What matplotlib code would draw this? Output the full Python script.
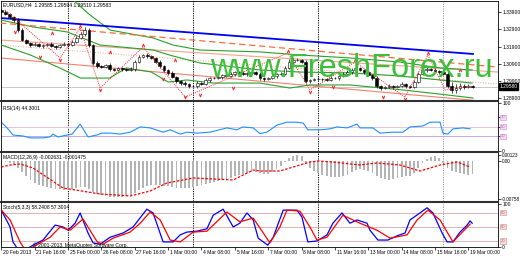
import matplotlib
matplotlib.use("Agg")
import matplotlib.pyplot as plt
from matplotlib.lines import Line2D

plt.rcParams["font.family"] = ["Liberation Sans", "DejaVu Sans"]

W, H = 520, 260

# EURUSD H4 closes, one per bar (bar 0 = 20 Feb 2013)
close = [
    1.3391, 1.3379, 1.3362, 1.3344, 1.3286, 1.3228, 1.3211, 1.3199, 1.3205, 1.3193,
    1.3199, 1.3205, 1.3193, 1.3188, 1.3199, 1.3205, 1.3199, 1.3217, 1.3240, 1.3263,
    1.3286, 1.3199, 1.3095, 1.3077, 1.3071, 1.3083, 1.3060, 1.3054, 1.3066, 1.3060,
    1.3054, 1.3060, 1.3100, 1.3129, 1.3141, 1.3135, 1.3124, 1.3100, 1.3077, 1.3054,
    1.3037, 1.3013, 1.2990, 1.2978, 1.2973, 1.2961, 1.2961, 1.2978, 1.2973, 1.2996,
    1.3007, 1.3007, 1.3013, 1.3025, 1.3019, 1.3031, 1.3042, 1.3037, 1.3031, 1.3037,
    1.3042, 1.3031, 1.3007, 1.3002, 1.3007, 1.3019, 1.3031, 1.3031, 1.3066, 1.3100,
    1.3112, 1.3112, 1.3100, 1.2990, 1.2996, 1.3002, 1.3002, 1.3002, 1.2996, 1.3007,
    1.3007, 1.3019, 1.3031, 1.3042, 1.3054, 1.3066, 1.3054, 1.3042, 1.3025, 1.3007,
    1.2961, 1.2949, 1.2955, 1.2961, 1.2955, 1.2961, 1.2973, 1.2961, 1.2955, 1.2984,
    1.3031, 1.3054, 1.3060, 1.3054, 1.3048, 1.3042, 1.3031, 1.2961, 1.2938, 1.2949,
    1.2961, 1.2955, 1.2961, 1.2958,
]
open0 = 1.3402
# wick lengths in pips
upper_wick = [
    8, 10, 6, 8, 12, 10, 6, 8, 10, 6,
    8, 6, 10, 8, 6, 10, 8, 12, 10, 14,
    16, 10, 8, 10, 6, 8, 10, 6, 8, 6,
    8, 10, 14, 12, 8, 10, 6, 8, 10, 6,
    8, 10, 6, 8, 10, 8, 6, 12, 8, 10,
    6, 8, 10, 8, 6, 10, 8, 6, 10, 8,
    6, 8, 10, 6, 8, 10, 8, 12, 14, 16,
    12, 10, 8, 10, 6, 8, 10, 6, 8, 10,
    6, 8, 10, 12, 14, 10, 8, 6, 10, 8,
    10, 6, 8, 10, 6, 8, 10, 6, 8, 12,
    14, 12, 10, 8, 10, 8, 6, 16, 22, 26,
    18, 12, 10, 8,
]
lower_wick = [
    6, 8, 10, 12, 10, 8, 6, 10, 8, 6,
    10, 8, 6, 10, 8, 6, 10, 8, 6, 8,
    10, 12, 14, 10, 8, 6, 10, 8, 6, 10,
    8, 6, 10, 8, 6, 10, 8, 6, 10, 12,
    10, 8, 12, 14, 10, 12, 8, 10, 6, 8,
    10, 6, 8, 10, 6, 8, 10, 6, 8, 10,
    6, 8, 10, 12, 8, 6, 10, 8, 6, 8,
    10, 6, 8, 14, 10, 8, 6, 10, 8, 6,
    8, 10, 6, 8, 10, 6, 8, 10, 6, 12,
    14, 10, 8, 6, 10, 8, 6, 10, 8, 6,
    8, 6, 10, 8, 6, 10, 8, 12, 18, 16,
    14, 10, 8, 8,
]

# Bollinger bands (read as polylines: bar, price)
bb_up_bar = [0, 12, 17.2, 21.3, 26.1, 36.4, 41.2, 47.6, 62.0, 71.6, 83.6, 95.6, 105.2, 112.9]
bb_up = [1.3620, 1.3520, 1.3461, 1.3373, 1.3286, 1.3240, 1.3199, 1.3170, 1.3159, 1.3141,
         1.3124, 1.3100, 1.3066, 1.3054]
bb_mid_bar = [0, 7.6, 15.8, 23.7, 36.4, 41.2, 47.6, 62.0, 71.6, 83.6, 95.6, 105.2, 112.9]
bb_mid = [1.3344, 1.3304, 1.3275, 1.3199, 1.3170, 1.3135, 1.3095, 1.3054, 1.3042, 1.3037,
          1.3019, 1.2996, 1.2978]
bb_lo_bar = [0, 7, 14, 19, 26, 30, 36, 40, 44.5, 50.8, 62, 69.2, 74, 83.6, 96.3, 106.9, 113.1]
bb_lo = [1.3199, 1.3141, 1.3066, 1.3007, 1.3007, 1.3066, 1.3042, 1.2984, 1.2996, 1.2978,
         1.2978, 1.2949, 1.2967, 1.2967, 1.2938, 1.2909, 1.2891]

# trend line and channel lines (end points)
trend_bar = [-0.3, 113.1]
trend_blue = [1.3356, 1.3147]
chan_bar = [-0.3, 119.1]
chan_mid = [1.3327, 1.3071]
chan_upper_salmon = [1.3228, 1.3042]
chan_lower_salmon = [1.3124, 1.2865]
chan_dotted = [1.3199, 1.2973]

# zigzag and fractals
zz_bar = [0.9, 14.1, 18.9, 23.7, 34.0, 44.1, 68.7, 74.0, 84.8, 96.8, 102.3, 106.4, 112.4]
zz = [1.3403, 1.3124, 1.3298, 1.2949, 1.3188, 1.2897, 1.3153, 1.2938, 1.3100, 1.2897,
      1.3141, 1.2938, 1.2961]
frac_up_bar = [12.2, 18.9, 26.1, 34.0, 41.7, 68.8, 84.8, 89.6, 102.3, 110.0]
frac_up = [1.3269, 1.3310, 1.3159, 1.3199, 1.3112, 1.3164, 1.3112, 1.3106, 1.3153, 1.3054]
frac_dn_bar = [3.3, 9.3, 14.1, 23.7, 38.8, 44.1, 47.6, 55.6, 74.0, 79.5, 91.5, 96.8]
frac_dn = [1.3275, 1.3129, 1.3112, 1.2938, 1.3002, 1.2897, 1.2909, 1.2949, 1.2926, 1.2955,
           1.2897, 1.2885]

# RSI(14)
rsi_bar = [0, 1.4, 2.8, 5.2, 6.9, 10.0, 11.7, 12.4, 13.6, 15.8, 17.0, 18.9, 20.8, 22.9,
           24.1, 26.1, 28.5, 30.9, 33.3, 35.7, 38.8, 40.5, 42.9, 44.5, 46.9, 50.0, 54.1,
           56.5, 57.9, 60.4, 62.0, 63.7, 66.1, 68.5, 70.9, 72.4, 73.5, 76.4, 78.8, 80.5,
           82.9, 85.3, 86.0, 89.1, 90.8, 93.9, 96.3, 98.0, 101.1, 102.8, 105.2, 105.9,
           107.1, 108.3, 110.7, 112.4]
rsi = [60, 48, 33, 31, 27, 27, 29, 35, 29, 33, 35, 56, 29, 33, 37, 37, 35, 39, 50, 48,
       39, 44, 35, 39, 37, 39, 48, 44, 50, 48, 36, 39, 54, 60, 60, 58, 44, 44, 46, 50,
       48, 56, 48, 48, 37, 39, 39, 50, 52, 60, 60, 37, 35, 46, 48, 46]

# MACD(12,26,9) histogram, one per bar, and signal line
macd_hist = [
    -0.0001, -0.0002, -0.0003, -0.0006, -0.0014, -0.0022, -0.0030, -0.0038, -0.0044, -0.0048,
    -0.0050, -0.0052, -0.0054, -0.0056, -0.0056, -0.0058, -0.0058, -0.0056, -0.0054, -0.0052,
    -0.0052, -0.0056, -0.0062, -0.0066, -0.0068, -0.0070, -0.0072, -0.0072, -0.0072, -0.0072,
    -0.0070, -0.0068, -0.0064, -0.0058, -0.0054, -0.0050, -0.0048, -0.0048, -0.0048, -0.0050,
    -0.0050, -0.0052, -0.0054, -0.0054, -0.0054, -0.0054, -0.0052, -0.0050, -0.0048, -0.0046,
    -0.0044, -0.0042, -0.0040, -0.0038, -0.0036, -0.0034, -0.0030, -0.0028, -0.0026, -0.0024,
    -0.0022, -0.0022, -0.0024, -0.0026, -0.0026, -0.0022, -0.0016, -0.0010, -0.0002, 0.0006,
    0.0010, 0.0012, 0.0010, -0.0004, -0.0014, -0.0020, -0.0024, -0.0028, -0.0030, -0.0032,
    -0.0032, -0.0032, -0.0030, -0.0028, -0.0022, -0.0018, -0.0016, -0.0018, -0.0020, -0.0024,
    -0.0030, -0.0034, -0.0036, -0.0038, -0.0036, -0.0034, -0.0032, -0.0030, -0.0030, -0.0024,
    -0.0014, -0.0004, 0.0004, 0.0008, 0.0010, 0.0006, -0.0004, -0.0014, -0.0020, -0.0022,
    -0.0024, -0.0026, -0.0028, -0.0026,
]
sig_macd_bar = [0, 2.1, 4.5, 7.6, 14.8, 23.7, 30.9, 35.7, 39.7, 46.0, 55.6, 60.4, 62.0,
                66.8, 74.0, 76.0, 79.5, 86.0, 90.1, 95.6, 100.4, 105.2, 109.3, 112.4]
sig_macd = [-0.0012, -0.0008, -0.0006, -0.0014, -0.0054, -0.0066, -0.0070, -0.0060,
            -0.0044, -0.0034, -0.0038, -0.0018, -0.0020, -0.0020, -0.0002, 0.0000,
            -0.0002, -0.0008, -0.0004, -0.0008, -0.0020, -0.0008, -0.0002, -0.0012]

# Stochastic(5,3,3)
sto_bar = [0, 2.1, 2.8, 4.0, 6.0, 7.6, 10.0, 12.9, 14.8, 16.0, 17.7, 18.9, 20.8, 22.0,
           23.7, 26.1, 29.2, 31.6, 34.9, 36.4, 38.8, 41.2, 42.9, 44.5, 46.9, 49.3, 50.8,
           53.2, 55.6, 57.2, 58.9, 60.4, 61.6, 63.9, 65.2, 67.6, 70.9, 72.1, 73.5, 75.7,
           78.1, 79.5, 81.7, 83.6, 85.3, 87.7, 88.4, 90.3, 92.7, 94.9, 96.8, 98.0, 100.4,
           102.1, 103.5, 105.7, 106.9, 108.3, 110.0, 111.7, 112.4, 112.9]
sto_main = [86, 50, 18, 2, 2, 11, 22, 54, 50, 43, 58, 80, 37, 16, 13, 28, 37, 50, 88, 80,
            18, 18, 33, 39, 41, 46, 75, 88, 50, 58, 80, 65, 26, 11, 28, 86, 86, 71, 18, 20,
            33, 58, 80, 58, 65, 58, 43, 22, 22, 31, 37, 65, 80, 91, 80, 37, 18, 18, 39, 54,
            63, 58]
sig_bar = [0, 2.1, 4.5, 5.7, 7.6, 11.7, 14.1, 16.5, 19.6, 23.0, 24.4, 26.8, 30.9, 33.3,
           35.7, 38.1, 40.5, 42.9, 46.0, 49.3, 54.1, 57.2, 60.4, 62.0, 64.4, 66.8, 68.5,
           71.6, 74.0, 75.7, 78.1, 81.9, 86.0, 90.1, 93.2, 97.3, 99.7, 102.3, 105.2,
           108.3, 112.4]
sto_signal = [86, 65, 18, 1, 7, 28, 50, 43, 67, 18, 13, 26, 39, 58, 82, 65, 22, 18, 39,
              41, 82, 61, 69, 48, 16, 50, 86, 84, 50, 22, 28, 75, 58, 43, 26, 33, 65, 86,
              65, 18, 56]

x_labels = ["20 Feb 2013", "21 Feb 16:00", "25 Feb 00:00", "26 Feb 08:00", "27 Feb 16:00",
            "1 Mar 00:00", "4 Mar 08:00", "5 Mar 16:00", "7 Mar 00:00", "8 Mar 08:00",
            "11 Mar 16:00", "13 Mar 00:00", "14 Mar 08:00", "15 Mar 16:00", "19 Mar 00:00"]
week_bars = [16, 46, 76, 106]
price_ticks = [1.3390, 1.3290, 1.3190, 1.3090, 1.2990, 1.2890]

FS = 3.6

fig = plt.figure(figsize=(5.2, 2.6), dpi=100)


def box(y0, y1):
    return [1 / W, 1 - y1 / H, 497 / W, (y1 - y0) / H]


ax_p = fig.add_axes(box(1, 100))
ax_r = fig.add_axes(box(101, 151))
ax_m = fig.add_axes(box(152, 201))
ax_s = fig.add_axes(box(202, 247))

for ax in (ax_p, ax_r, ax_m, ax_s):
    ax.set_xlim(-0.07, 119.1)
    ax.set_xticks([])
    ax.yaxis.tick_right()
    ax.tick_params(axis="y", length=2, width=0.5, labelsize=FS, pad=1)
    for sp in ax.spines.values():
        sp.set_linewidth(0.6)
    for i, b in enumerate(week_bars):
        ax.axvline(b, color="black" if i < 3 else "#999999", lw=0.7, ls=(0, (1.2, 1.2)), zorder=1)

# ---- price panel ----
ax_p.set_ylim(1.28796, 1.34548)
opens = [open0] + close[:-1]
for i, (o, c) in enumerate(zip(opens, close)):
    hi = max(o, c) + upper_wick[i] * 0.0001
    lo = min(o, c) - lower_wick[i] * 0.0001
    ax_p.vlines(i, lo, hi, color="black", lw=0.5, zorder=4)
    body = max(abs(c - o), 0.00008)
    ax_p.bar(i, body, bottom=min(o, c), width=0.65,
             color="white" if c >= o else "black", edgecolor="black", lw=0.4, zorder=5)

ax_p.plot(bb_up_bar, bb_up, color="#2aa02a", lw=0.8, zorder=3)
ax_p.plot(bb_mid_bar, bb_mid, color="#2aa02a", lw=0.8, zorder=3)
ax_p.plot(bb_lo_bar, bb_lo, color="#2aa02a", lw=0.8, zorder=3)
ax_p.plot(trend_bar, trend_blue, color="#0000ee", lw=1.3, zorder=3)
ax_p.plot(chan_bar, chan_mid, color="#ff6a3a", lw=0.9, ls=(0, (5, 3)), zorder=3)
ax_p.plot(chan_bar, chan_upper_salmon, color="#f4a28c", lw=0.8, zorder=2)
ax_p.plot(chan_bar, chan_lower_salmon, color="#f08070", lw=0.8, zorder=2)
ax_p.plot(chan_bar, chan_dotted, color="#f4a28c", lw=0.7, ls=":", zorder=2)
ax_p.plot(zz_bar, zz, color="#ff2020", lw=0.7, ls=(0, (1, 1.2)), zorder=6)
ax_p.plot(frac_up_bar, frac_up, ls="none", marker=r"$\wedge$", ms=2.2, mew=0.3,
          color="#ff2020", zorder=6)
ax_p.plot(frac_dn_bar, frac_dn, ls="none", marker=r"$\vee$", ms=2.2, mew=0.3,
          color="#ff2020", zorder=6)
ax_p.axhline(close[-1], color="#b0b0b0", lw=0.5, zorder=1)

ax_p.set_yticks(price_ticks)
ax_p.set_yticklabels([f"{t:.5f}" for t in price_ticks])
ax_p.text(1.003, close[-1], f"{close[-1]:.5f}", transform=ax_p.get_yaxis_transform(),
          fontsize=FS, color="white", va="center", ha="left", clip_on=False,
          bbox=dict(facecolor="black", edgecolor="black", pad=0.5), zorder=10)
ax_p.text(0.004, 0.985, "EURUSD,H4  1.29585 1.29594 1.29510 1.29583", transform=ax_p.transAxes,
          fontsize=FS, va="top", ha="left")

# ---- RSI ----
ax_r.set_ylim(-0.6, 104.6)
ax_r.axhline(50, color="#e6c4d8", lw=0.7)
ax_r.axhline(30, color="#c8a8e0", lw=0.7)
ax_r.plot(rsi_bar, rsi, color="#1e90ff", lw=0.8)
ax_r.set_yticks([100, 70, 50, 30, 0])
ax_r.set_yticklabels(["100", "", "", "", "0"])
for lvl in (70, 50, 30):
    ax_r.text(1.006, lvl, str(lvl), transform=ax_r.get_yaxis_transform(), fontsize=FS - 0.6,
              color="#c060c0", va="center", ha="left", clip_on=False,
              bbox=dict(facecolor="#f4d8f4", edgecolor="#d090d0", pad=0.4, lw=0.4))
ax_r.text(0.004, 0.9, "RSI(14) 44.3001", transform=ax_r.transAxes, fontsize=FS, va="top")

# ---- MACD ----
ax_m.set_ylim(-0.0080, 0.0018)
ax_m.bar(range(len(macd_hist)), macd_hist, width=0.45, color="#b4b4b4", zorder=2)
ax_m.plot(sig_macd_bar, sig_macd, color="#ff0000", lw=0.9, ls=(0, (2, 1.3)), zorder=3)
ax_m.set_yticks([0.0012, 0.0, -0.0076])
ax_m.set_yticklabels(["0.00123", "0.00", "-0.00758"])
ax_m.tick_params(axis="y", labelsize=FS - 0.3)
ax_m.text(0.004, 0.93, "MACD(12,26,9) -0.002631 -0.001475", transform=ax_m.transAxes,
          fontsize=FS, va="top")

# ---- Stochastic ----
ax_s.set_ylim(7.1, 103.4)
for lvl in (80, 50, 20):
    ax_s.axhline(lvl, color="#d8a8a8", lw=0.6)
    ax_s.text(1.006, lvl, str(lvl), transform=ax_s.get_yaxis_transform(), fontsize=FS - 0.6,
              color="#c06060", va="center", ha="left", clip_on=False,
              bbox=dict(facecolor="#f4dada", edgecolor="#d09090", pad=0.4, lw=0.4))
ax_s.plot(sto_bar, sto_main, color="#0000ff", lw=0.9, zorder=3)
ax_s.plot(sig_bar, sto_signal, color="#ff0000", lw=0.9, zorder=3)
ax_s.set_yticks([100, 8])
ax_s.set_yticklabels(["100", "0"])
ax_s.text(0.004, 0.93, "Stoch(5,3,3) 58.2408 57.3004", transform=ax_s.transAxes,
          fontsize=FS, va="top")
ax_s.text(32 / 497, 0.04, "\u00a9 2001-2013, MetaQuotes Software Corp.", transform=ax_s.transAxes,
          fontsize=FS, va="center", ha="left", zorder=5)

ax_s.set_xticks([8 * i for i in range(len(x_labels))])
ax_s.tick_params(axis="x", length=2, width=0.5, labelbottom=False)
for i, lab in enumerate(x_labels):
    ax_s.text(8 * i + 0.4, -0.13, lab, transform=ax_s.get_xaxis_transform(),
              fontsize=FS, va="center", ha="left", clip_on=False)

# panel separators
for yy in (100.5, 151.5, 201.5):
    fig.add_artist(Line2D([0, 498 / W], [1 - yy / H] * 2, color="#303030", lw=1.5))

# watermark
fig.text(210 / W, 1 - 77 / H, "www.FreshForex.ru", fontsize=23.5, color="#3cc03c",
         family="Liberation Sans", va="baseline", ha="left", zorder=10)

fig.savefig("out.png", dpi=100)
